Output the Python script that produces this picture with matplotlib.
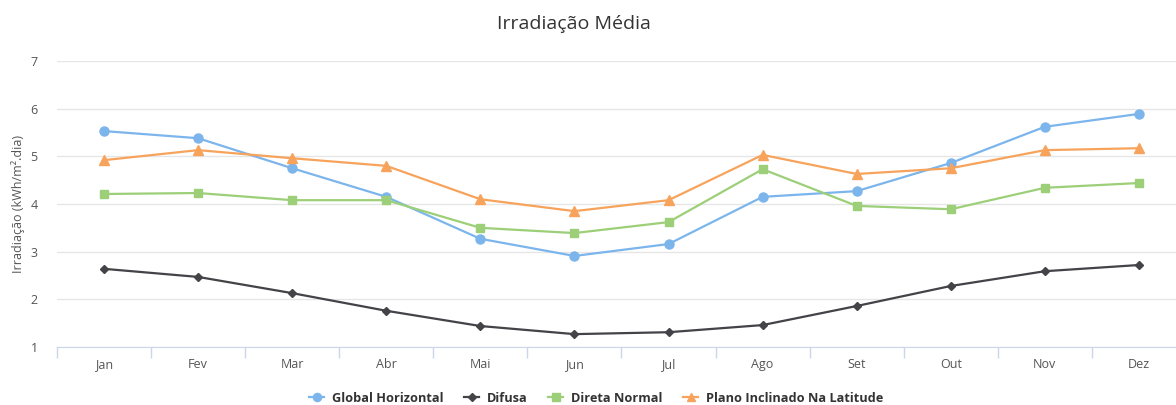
import numpy as np
import matplotlib
matplotlib.use('Agg')
import matplotlib.pyplot as plt

plt.rcParams['font.family'] = ['Open Sans', 'DejaVu Sans']

meses = ['Jan', 'Fev', 'Mar', 'Abr', 'Mai', 'Jun', 'Jul', 'Ago', 'Set', 'Out', 'Nov', 'Dez']
global_horizontal = [5.53, 5.38, 4.75, 4.15, 3.27, 2.91, 3.16, 4.15, 4.27, 4.86, 5.62, 5.89]
difusa = [2.64, 2.47, 2.13, 1.76, 1.44, 1.27, 1.31, 1.46, 1.86, 2.28, 2.59, 2.72]
direta_normal = [4.21, 4.23, 4.08, 4.08, 3.50, 3.39, 3.62, 4.73, 3.96, 3.89, 4.34, 4.44]
plano_inclinado = [4.92, 5.13, 4.96, 4.80, 4.10, 3.85, 4.08, 5.03, 4.63, 4.75, 5.13, 5.17]

series = [
    ('Global Horizontal', global_horizontal, '#7cb5ec', 'o', 6.5),
    ('Difusa', difusa, '#434348', 'D', 4.5),
    ('Direta Normal', direta_normal, '#9ccf78', 's', 6),
    ('Plano Inclinado Na Latitude', plano_inclinado, '#f7a35c', '^', 6.5),
]

fig = plt.figure(figsize=(11.76, 4.05), dpi=100)
# plot area runs a little past the right edge of the picture, as in the reference
ax = fig.add_axes([57 / 1176, 1 - 347 / 405, (1186 - 57) / 1176, (347 - 61) / 405])

x = np.arange(len(meses))
for nome, vals, cor, mk, ms in series:
    ax.plot(x, vals, color=cor, marker=mk, markersize=ms, linewidth=1.6,
            markeredgecolor=cor, label=nome, zorder=3)

ax.set_xlim(-0.5, len(meses) - 0.5)
ax.set_ylim(1, 7)
ax.set_yticks(range(1, 8))
ax.set_xticks(x)
ax.set_xticklabels(meses)
ax.set_xticks(np.arange(-0.5, len(meses), 1), minor=True)
ax.tick_params(axis='x', which='major', length=0, pad=8, labelsize=9, labelcolor='#555555')
ax.tick_params(axis='x', which='minor', length=8, color='#ccd6eb', width=1)
ax.tick_params(axis='y', length=0, labelsize=9, labelcolor='#555555', pad=19)
for lbl in ax.get_yticklabels():
    lbl.set_horizontalalignment('left')

ax.grid(axis='y', color='#e6e6e6', linewidth=1)
for s in ['top', 'right', 'left']:
    ax.spines[s].set_visible(False)
ax.spines['bottom'].set_color('#ccd6eb')
ax.set_axisbelow(True)

ax.set_ylabel('Irradiação (kWh/m².dia)', fontsize=9, color='#555555', labelpad=4)
fig.text(574 / 1176, 1 - 24 / 405, 'Irradiação Média', ha='center', va='center',
         fontsize=14, color='#333333')

leg = fig.legend(loc='center', bbox_to_anchor=(596 / 1176, 1 - 398 / 405), ncol=4, frameon=False,
                 prop={'weight': 'bold', 'size': 9.2}, handlelength=1.2, columnspacing=1.6,
                 markerscale=0.9, handletextpad=0.6)
for t in leg.get_texts():
    t.set_color('#333333')

fig.savefig('out.png', dpi=100, facecolor='white')
